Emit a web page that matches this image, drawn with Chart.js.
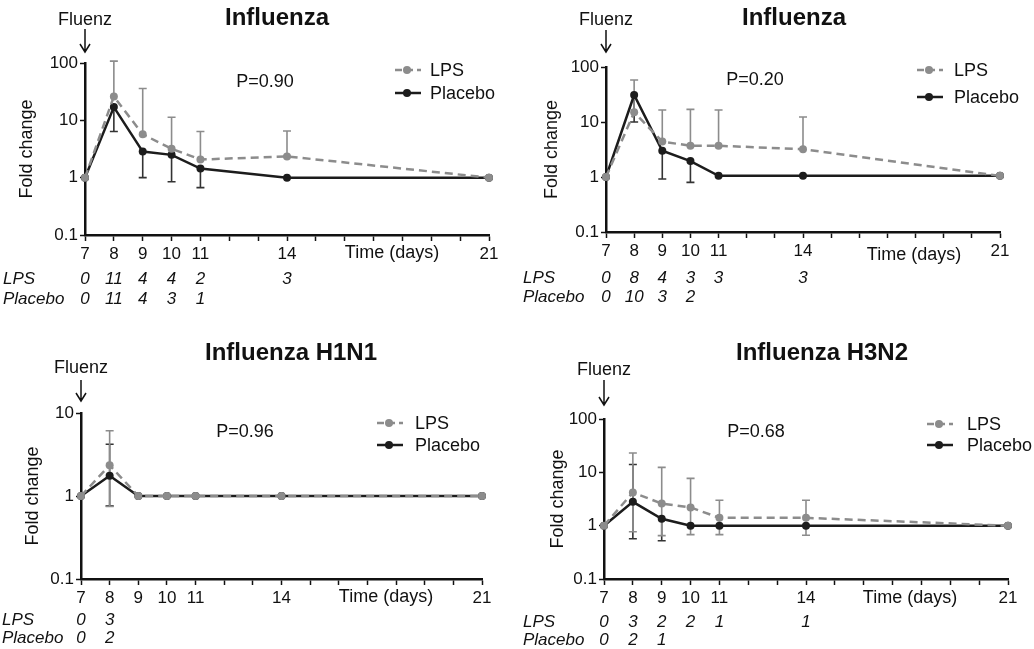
<!DOCTYPE html>
<html>
<head>
<meta charset="utf-8">
<script src="https://cdn.jsdelivr.net/npm/chart.js@4.4.1/dist/chart.umd.min.js"></script>
<style>
  body { margin: 0; background: #fff; width: 1034px; height: 649px; position: relative; overflow: hidden; }
  canvas { position: absolute; }
</style>
</head>
<body>
<canvas id="c1" width="517" height="325" style="left:0;top:0"></canvas>
<canvas id="c2" width="517" height="325" style="left:517px;top:0"></canvas>
<canvas id="c3" width="517" height="324" style="left:0;top:325px"></canvas>
<canvas id="c4" width="517" height="324" style="left:517px;top:325px"></canvas>
<script>
// sampling days and which of them get a label on the x axis
const days = [7, 8, 9, 10, 11, 14, 21];
const dayLabels = [7, 8, 9, 10, 11, 14, 21];
const yTicks100 = [0.1, 1, 10, 100];
const yTicks10 = [0.1, 1, 10];

// Influenza (top left)
const fluLps    = [1, 26, 5.7, 3.2, 2.07, 2.35, 1];
const fluLpsHi  = [null, 108, 36, 11.3, 6.4, 6.5, null];
const fluPlc    = [1, 17, 2.85, 2.5, 1.44, 1, 1];
const fluPlcLo  = [null, 6.4, 1.0, 0.85, 0.67, null, null];
const fluNLps   = ['0', '11', '4', '4', '2', '3', ''];
const fluNPlc   = ['0', '11', '4', '3', '1', '', ''];

// Influenza (top right)
const flu2Lps   = [1, 15, 4.4, 3.7, 3.7, 3.2, 1.05];
const flu2LpsHi = [null, 58, 16.5, 17, 16.5, 12.3, null];
const flu2Plc   = [1, 31, 3.0, 1.95, 1.05, 1.05, 1.05];
const flu2PlcLo = [null, 10, 0.92, 0.8, null, null, null];
const flu2NLps  = ['0', '8', '4', '3', '3', '3', ''];
const flu2NPlc  = ['0', '10', '3', '2', '', '', ''];

// Influenza H1N1
const h1Lps     = [1, 2.35, 1, 1, 1, 1, 1];
const h1LpsHi   = [null, 6.1, null, null, null, null, null];
const h1LpsLo   = [null, 0.75, null, null, null, null, null];
const h1Plc     = [1, 1.75, 1, 1, 1, 1, 1];
const h1PlcHi   = [null, 4.2, null, null, null, null, null];
const h1PlcLo   = [null, 0.76, null, null, null, null, null];
const h1NLps    = ['0', '3', '', '', '', '', ''];
const h1NPlc    = ['0', '2', '', '', '', '', ''];

// Influenza H3N2
const h3Lps     = [1, 4.2, 2.6, 2.2, 1.4, 1.4, 1];
const h3LpsHi   = [null, 23, 12.4, 7.7, 3.0, 3.0, null];
const h3LpsLo   = [null, 0.77, 0.65, 0.68, 0.68, 0.66, null];
const h3Plc     = [1, 2.8, 1.35, 1, 1, 1, 1];
const h3PlcHi   = [null, 14, null, null, null, null, null];
const h3PlcLo   = [null, 0.57, 0.52, null, null, null, null];
const h3NLps    = ['0', '3', '2', '2', '1', '1', ''];
const h3NPlc    = ['0', '2', '1', '', '', '', ''];

const none = days.map(() => null);
const GREY = '#8c8c8c';
const BLACK = '#1c1c1c';
const FONT = '"Liberation Sans", Arial, sans-serif';

const panels = [
  { id: 'c1', title: 'Influenza', p: 'P=0.90', yTicks: yTicks100,
    lps: fluLps, lpsHi: fluLpsHi, lpsLo: none, plc: fluPlc, plcHi: none, plcLo: fluPlcLo,
    nLps: fluNLps, nPlc: fluNPlc,
    pad: { left: 15, right: 28, top: 63, bottom: 60 }, yw: 70,
    titleX: 277, titleY: 25, fluY: 25, arrow: [29, 52], pX: 265, pY: 87,
    legX: 395, legTextX: 430, legY: [70, 93], tabX: 3, tabY: [284, 304], timeX: 392, timeY: 258 },
  { id: 'c2', title: 'Influenza', p: 'P=0.20', yTicks: yTicks100,
    lps: flu2Lps, lpsHi: flu2LpsHi, lpsLo: none, plc: flu2Plc, plcHi: none, plcLo: flu2PlcLo,
    nLps: flu2NLps, nPlc: flu2NPlc,
    pad: { left: 23, right: 34, top: 67, bottom: 63 }, yw: 66,
    titleX: 277, titleY: 25, fluY: 25, arrow: [30, 52], pX: 238, pY: 85,
    legX: 400, legTextX: 437, legY: [70, 97], tabX: 6, tabY: [283, 302], timeX: 397, timeY: 260 },
  { id: 'c3', title: 'Influenza H1N1', p: 'P=0.96', yTicks: yTicks10,
    lps: h1Lps, lpsHi: h1LpsHi, lpsLo: h1LpsLo, plc: h1Plc, plcHi: h1PlcHi, plcLo: h1PlcLo,
    nLps: h1NLps, nPlc: h1NPlc,
    pad: { left: 21, right: 35, top: 88, bottom: 40 }, yw: 60,
    titleX: 291, titleY: 35, fluY: 48, arrow: [55, 76], pX: 245, pY: 112,
    legX: 377, legTextX: 415, legY: [98, 120], tabX: 2, tabY: [300, 318], timeX: 386, timeY: 277 },
  { id: 'c4', title: 'Influenza H3N2', p: 'P=0.68', yTicks: yTicks100,
    lps: h3Lps, lpsHi: h3LpsHi, lpsLo: h3LpsLo, plc: h3Plc, plcHi: h3PlcHi, plcLo: h3PlcLo,
    nLps: h3NLps, nPlc: h3NPlc,
    pad: { left: 29, right: 26, top: 94, bottom: 40 }, yw: 58,
    titleX: 305, titleY: 35, fluY: 50, arrow: [55, 80], pX: 239, pY: 112,
    legX: 410, legTextX: 450, legY: [99, 120], tabX: 6, tabY: [302, 320], timeX: 393, timeY: 278 }
];

function errBars(chart, vals, lo, hi, color) {
  const ctx = chart.ctx, xs = chart.scales.x, ys = chart.scales.y;
  ctx.save();
  ctx.strokeStyle = color;
  ctx.lineWidth = 1.6;
  days.forEach((d, i) => {
    const px = xs.getPixelForValue(d), py = ys.getPixelForValue(vals[i]);
    [lo[i], hi[i]].forEach(v => {
      if (v == null) return;
      const pe = ys.getPixelForValue(v);
      ctx.beginPath();
      ctx.moveTo(px, py); ctx.lineTo(px, pe);
      ctx.moveTo(px - 4, pe); ctx.lineTo(px + 4, pe);
      ctx.stroke();
    });
  });
  ctx.restore();
}

// extra bits: titles, Fluenz arrow, P value, legend, n table
const extras = {
  id: 'extras',
  beforeDatasetsDraw(chart) {
    const cfg = chart.config.options.plugins.extras;
    errBars(chart, cfg.plc, cfg.plcLo, cfg.plcHi, '#333333');
    errBars(chart, cfg.lps, cfg.lpsLo, cfg.lpsHi, GREY);
  },
  afterDraw(chart) {
    const cfg = chart.config.options.plugins.extras;
    const ctx = chart.ctx, xs = chart.scales.x;
    const x0 = chart.chartArea.left;
    ctx.save();
    ctx.fillStyle = '#111';
    ctx.textBaseline = 'alphabetic';

    ctx.font = 'bold 24px ' + FONT;
    ctx.textAlign = 'center';
    ctx.fillText(cfg.title, cfg.titleX, cfg.titleY);

    ctx.font = '18px ' + FONT;
    ctx.fillText('Fluenz', x0, cfg.fluY);
    ctx.strokeStyle = '#111';
    ctx.lineWidth = 1.5;
    ctx.beginPath();
    ctx.moveTo(x0, cfg.arrow[0]); ctx.lineTo(x0, cfg.arrow[1]);
    ctx.moveTo(x0 - 5, cfg.arrow[1] - 8); ctx.lineTo(x0, cfg.arrow[1]); ctx.lineTo(x0 + 5, cfg.arrow[1] - 8);
    ctx.stroke();

    ctx.fillText(cfg.p, cfg.pX, cfg.pY);
    ctx.fillText('Time (days)', cfg.timeX, cfg.timeY);

    // legend
    const items = [['LPS', GREY, [7, 4]], ['Placebo', BLACK, []]];
    items.forEach((it, k) => {
      const y = cfg.legY[k];
      ctx.strokeStyle = it[1];
      ctx.lineWidth = 2.5;
      ctx.setLineDash(it[2]);
      ctx.beginPath(); ctx.moveTo(cfg.legX, y); ctx.lineTo(cfg.legX + 26, y); ctx.stroke();
      ctx.setLineDash([]);
      ctx.fillStyle = it[1];
      ctx.beginPath(); ctx.arc(cfg.legX + 12, y, 4, 0, Math.PI * 2); ctx.fill();
      ctx.fillStyle = '#111';
      ctx.textAlign = 'left';
      ctx.textBaseline = 'middle';
      ctx.font = '18px ' + FONT;
      ctx.fillText(it[0], cfg.legTextX, y + 1);
    });

    // number of subjects table
    ctx.textBaseline = 'alphabetic';
    ctx.font = 'italic 17px ' + FONT;
    ctx.textAlign = 'left';
    ctx.fillText('LPS', cfg.tabX, cfg.tabY[0]);
    ctx.fillText('Placebo', cfg.tabX, cfg.tabY[1]);
    ctx.textAlign = 'center';
    [cfg.nLps, cfg.nPlc].forEach((row, r) => {
      row.forEach((n, i) => {
        if (n) ctx.fillText(n, xs.getPixelForValue(days[i]), cfg.tabY[r]);
      });
    });
    ctx.restore();
  }
};

panels.forEach(pn => {
  new Chart(document.getElementById(pn.id), {
    type: 'line',
    data: {
      datasets: [
        { label: 'LPS', data: days.map((d, i) => ({ x: d, y: pn.lps[i] })),
          borderColor: GREY, backgroundColor: GREY, borderWidth: 2.5, borderDash: [8, 5],
          pointRadius: 4, pointBorderWidth: 0, pointBackgroundColor: GREY, tension: 0, clip: false },
        { label: 'Placebo', data: days.map((d, i) => ({ x: d, y: pn.plc[i] })),
          borderColor: BLACK, backgroundColor: BLACK, borderWidth: 2.5,
          pointRadius: 4, pointBorderWidth: 0, pointBackgroundColor: BLACK, tension: 0, clip: false }
      ]
    },
    options: {
      responsive: false,
      animation: false,
      layout: { padding: pn.pad },
      plugins: {
        legend: { display: false },
        tooltip: { enabled: false },
        extras: pn
      },
      scales: {
        x: {
          type: 'linear', min: 7, max: 21,
          afterFit: s => { s.height = 30; },
          ticks: { stepSize: 1, autoSkip: false, maxRotation: 0, padding: 3, color: '#111',
                   font: { family: FONT, size: 17 },
                   callback: v => dayLabels.includes(v) ? String(v) : '' },
          grid: { drawOnChartArea: false, drawTicks: true, tickLength: 6, tickWidth: 1.5, tickColor: '#111' },
          border: { display: true, color: '#111', width: 2.5 }
        },
        y: {
          type: 'logarithmic', min: 0.1, max: pn.yTicks[pn.yTicks.length - 1],
          afterFit: s => { s.width = pn.yw; },
          afterBuildTicks: s => { s.ticks = pn.yTicks.map(v => ({ value: v })); },
          ticks: { padding: 2, color: '#111', font: { family: FONT, size: 17 },
                   callback: v => String(v) },
          grid: { drawOnChartArea: false, drawTicks: true, tickLength: 5, tickWidth: 1.5, tickColor: '#111' },
          border: { display: true, color: '#111', width: 2.5 },
          title: { display: true, text: 'Fold change', color: '#111', padding: { top: 1, bottom: 0 },
                   font: { family: FONT, size: 18 } }
        }
      }
    },
    plugins: [extras]
  });
});
</script>
</body>
</html>
